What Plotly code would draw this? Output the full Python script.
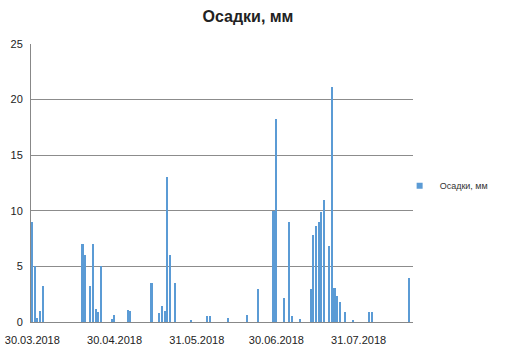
import plotly.graph_objects as go

dates = [
    "2018-03-30", "2018-03-31", "2018-04-01", "2018-04-02", "2018-04-03",
    "2018-04-18", "2018-04-19", "2018-04-21", "2018-04-22", "2018-04-23",
    "2018-04-24", "2018-04-25", "2018-04-29", "2018-04-30",
    "2018-05-05", "2018-05-06", "2018-05-14", "2018-05-17", "2018-05-18",
    "2018-05-19", "2018-05-20", "2018-05-21", "2018-05-23", "2018-05-29",
    "2018-06-04", "2018-06-05", "2018-06-12", "2018-06-19", "2018-06-23",
    "2018-06-29", "2018-06-30",
    "2018-07-03", "2018-07-05", "2018-07-06", "2018-07-09", "2018-07-13",
    "2018-07-14", "2018-07-15", "2018-07-16", "2018-07-17", "2018-07-18",
    "2018-07-20", "2018-07-21", "2018-07-22", "2018-07-23", "2018-07-24",
    "2018-07-26", "2018-07-29",
    "2018-08-04", "2018-08-05", "2018-08-19",
]
precip = [
    9.0, 5.0, 0.4, 1.0, 3.2,
    7.0, 6.0, 3.2, 7.0, 1.2,
    0.9, 5.0, 0.3, 0.6,
    1.1, 1.0, 3.5, 0.8, 1.4,
    1.0, 13.0, 6.0, 3.5, 0.2,
    0.5, 0.5, 0.4, 0.6, 3.0,
    10.0, 18.3,
    2.2, 9.0, 0.5, 0.3, 3.0,
    7.8, 8.6, 9.0, 9.9, 11.0,
    6.8, 21.1, 3.1, 2.3, 1.8,
    0.9, 0.2,
    0.9, 0.9, 4.0,
]
tick_dates = ["2018-03-30", "2018-04-30", "2018-05-31", "2018-06-30", "2018-07-31"]
tick_labels = ["30.03.2018", "30.04.2018", "31.05.2018", "30.06.2018", "31.07.2018"]
y_ticks = [0, 5, 10, 15, 20, 25]

DAY_MS = 86400000
BAR_COLOR = "#5B9BD5"

fig = go.Figure()
fig.add_trace(go.Bar(
    x=dates, y=precip, name="Осадки, мм", showlegend=False,
    marker=dict(color=BAR_COLOR, line=dict(width=0)),
    width=0.6 * DAY_MS,
))
# legend-only entry with a small square swatch
fig.add_trace(go.Scatter(
    x=[None], y=[None], mode="markers", name="Осадки, мм",
    marker=dict(symbol="square", size=6, color=BAR_COLOR),
    showlegend=True,
))

fig.update_layout(
    width=506, height=349,
    margin=dict(l=31, r=93, t=44, b=27),
    paper_bgcolor="white", plot_bgcolor="white",
    font=dict(family="Liberation Sans, Arial, sans-serif", size=11, color="#404040"),
    title=dict(text="<b>Осадки, мм</b>", x=0.49, xanchor="center", y=0.953, yanchor="middle",
               font=dict(size=16, color="#222222")),
    showlegend=True,
    legend=dict(x=0.965, y=0.49, xanchor="left", yanchor="middle",
                font=dict(size=9, color="#333333"), bgcolor="rgba(0,0,0,0)"),
    bargap=0,
)
fig.update_xaxes(
    type="date", automargin=False,
    range=["2018-03-29 12:00", "2018-08-20 12:00"],
    tickmode="array", tickvals=tick_dates, ticktext=tick_labels,
    showgrid=False, showline=True, linecolor="#888888", linewidth=1,
    ticks="", ticklabelstandoff=8, tickfont=dict(size=11, color="#222222"),
    zeroline=False,
)
fig.update_yaxes(
    range=[0, 25], tickmode="array", tickvals=y_ticks, automargin=False,
    showgrid=True, gridcolor="#8c8c8c", gridwidth=1,
    showline=True, linecolor="#888888", linewidth=1,
    ticks="", ticklabelstandoff=5, tickfont=dict(size=11, color="#222222"),
    zeroline=False,
)

fig.write_html(
    "out.html",
    config={"displayModeBar": False},
    post_script="document.body.style.margin='0';",
)
